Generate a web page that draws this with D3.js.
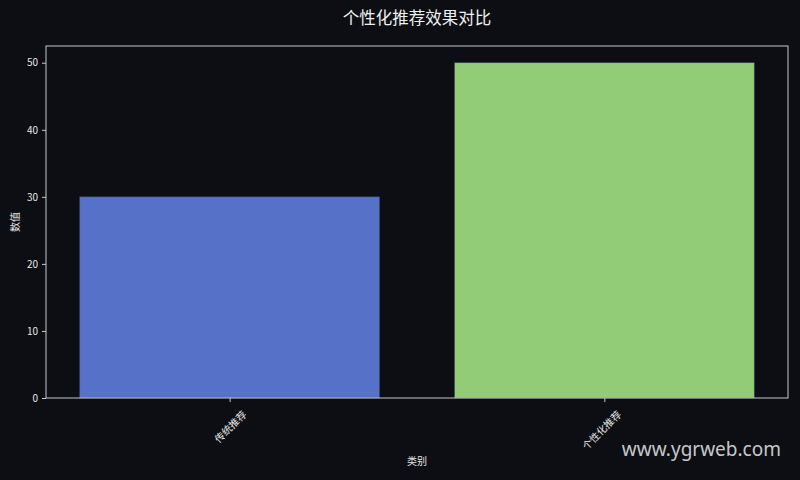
<!DOCTYPE html>
<html>
<head>
<meta charset="utf-8">
<script src="https://cdn.jsdelivr.net/npm/d3@7"></script>
<style>
  html, body { margin: 0; padding: 0; background: #0c0e14; }
  svg { display: block; }
</style>
</head>
<body>
<script>
const categories = ["传统推荐", "个性化推荐"];
const values = [30, 50];
const barColors = ["#5571c8", "#93cc76"];
const yTicks = [0, 10, 20, 30, 40, 50];

const width = 800, height = 480;
const margin = {top: 46, right: 12, bottom: 82, left: 46};
const font = "'Noto Sans CJK SC', 'DejaVu Sans', sans-serif";

const svg = d3.select("body").append("svg")
    .attr("width", width)
    .attr("height", height)
    .style("font-family", font);

svg.append("rect")
    .attr("width", width)
    .attr("height", height)
    .attr("fill", "#0c0e14");

// bars 0.8 wide on integer positions, small side margin
const x = d3.scaleLinear()
    .domain([-0.49, categories.length - 1 + 0.49])
    .range([margin.left, width - margin.right]);

const y = d3.scaleLinear()
    .domain([0, 52.5])
    .range([height - margin.bottom, margin.top]);

svg.append("g")
  .selectAll("rect")
  .data(values)
  .join("rect")
    .attr("x", (d, i) => x(i - 0.4))
    .attr("width", (d, i) => x(i + 0.4) - x(i - 0.4))
    .attr("y", d => y(d))
    .attr("height", d => y(0) - y(d))
    .attr("fill", (d, i) => barColors[i])
    .attr("stroke", "#3a4a66")
    .attr("stroke-width", 0.6);

const spine = "#c8c8c8";

const yAxis = svg.append("g")
    .attr("transform", `translate(${margin.left},0)`)
    .call(d3.axisLeft(y).tickValues(yTicks).tickSize(4).tickPadding(4));

const xAxis = svg.append("g")
    .attr("transform", `translate(0,${height - margin.bottom})`)
    .call(d3.axisBottom(x).tickValues(d3.range(categories.length))
      .tickFormat(i => categories[i]).tickSize(4).tickPadding(4));

[yAxis, xAxis].forEach(g => {
  g.select(".domain").remove();
  g.selectAll(".tick line").attr("stroke", spine);
  g.selectAll(".tick text")
      .attr("fill", "#e6e6e6")
      .style("font-size", "10px")
      .style("font-family", font);
});

xAxis.selectAll(".tick text")
    .attr("text-anchor", "end")
    .attr("dy", "0.35em")
    .attr("transform", "translate(9,9) rotate(-45)");

// frame
svg.append("rect")
    .attr("x", margin.left)
    .attr("y", margin.top)
    .attr("width", width - margin.left - margin.right)
    .attr("height", height - margin.top - margin.bottom)
    .attr("fill", "none")
    .attr("stroke", spine)
    .attr("stroke-width", 1);

svg.append("text")
    .attr("x", (margin.left + width - margin.right) / 2)
    .attr("y", 24)
    .attr("text-anchor", "middle")
    .attr("fill", "#f0f0f0")
    .style("font-size", "16.5px")
    .text("个性化推荐效果对比");

svg.append("text")
    .attr("x", (margin.left + width - margin.right) / 2)
    .attr("y", 465)
    .attr("text-anchor", "middle")
    .attr("fill", "#e6e6e6")
    .style("font-size", "10px")
    .text("类别");

svg.append("text")
    .attr("transform", `translate(19,${(margin.top + height - margin.bottom) / 2}) rotate(-90)`)
    .attr("text-anchor", "middle")
    .attr("fill", "#e6e6e6")
    .style("font-size", "10px")
    .text("数值");

svg.append("text")
    .attr("x", 781)
    .attr("y", 456)
    .attr("text-anchor", "end")
    .attr("fill", "#e0e0e0")
    .attr("fill-opacity", 0.9)
    .style("font-size", "19px")
    .style("font-family", "'Noto Sans', 'Open Sans', sans-serif")
    .text("www.ygrweb.com");
</script>
</body>
</html>
